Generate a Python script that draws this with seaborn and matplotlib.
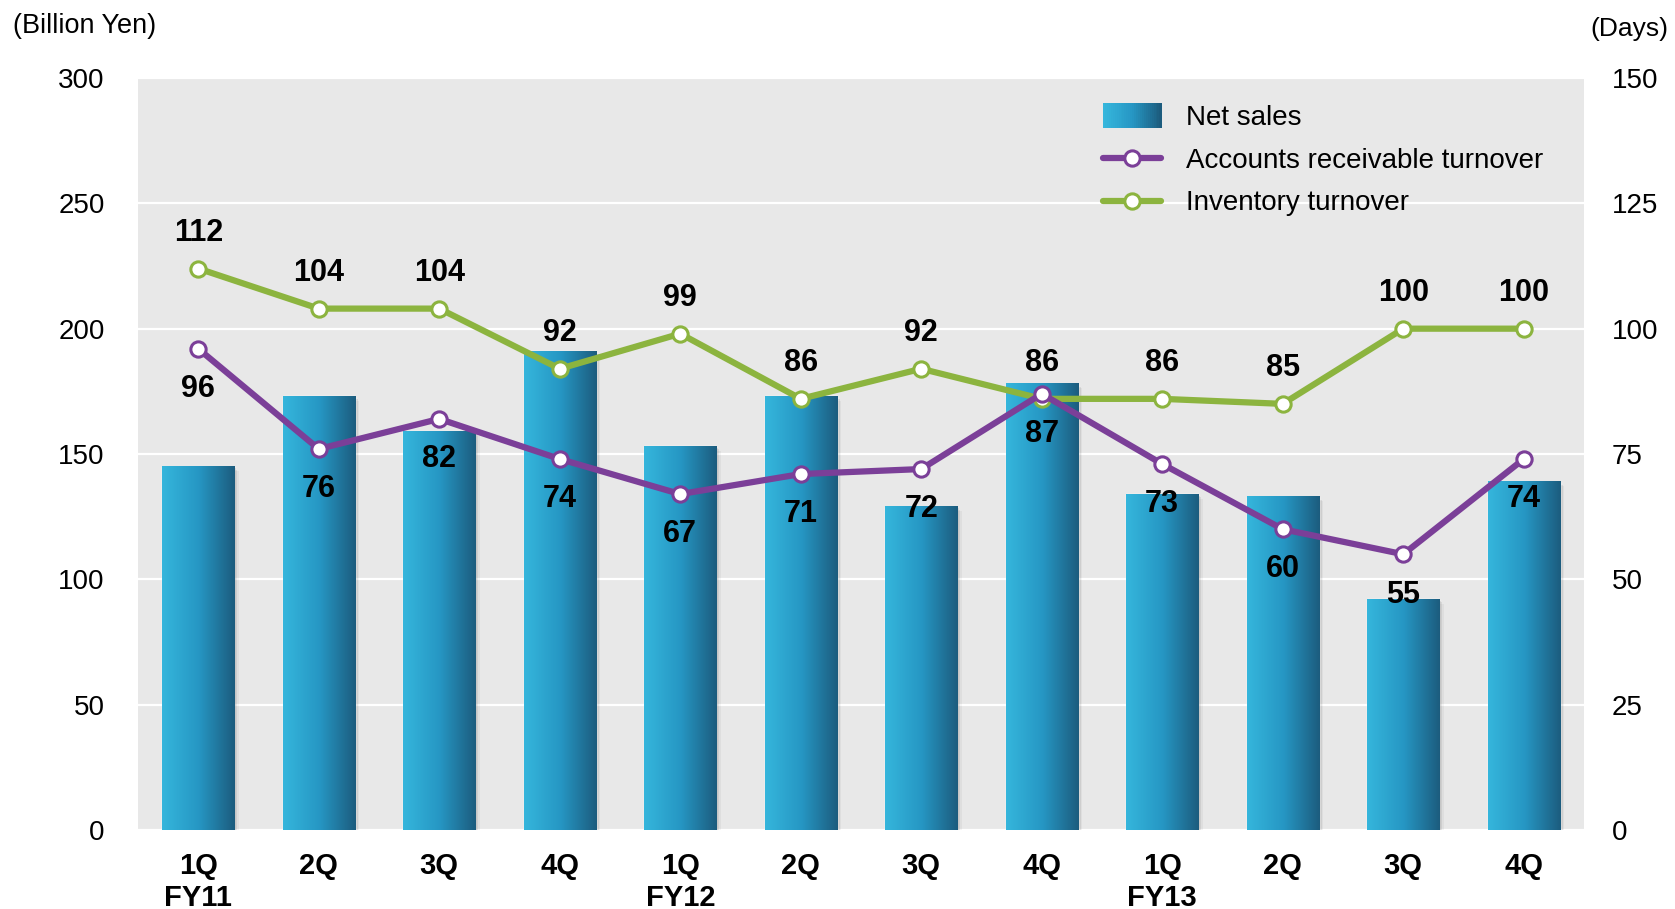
import numpy as np
import pandas as pd
import matplotlib
matplotlib.use('Agg')
import matplotlib.pyplot as plt
import seaborn as sns
from matplotlib.patches import Rectangle
from matplotlib.lines import Line2D
from matplotlib.legend_handler import HandlerBase
from matplotlib.colors import LinearSegmentedColormap

# Data
quarters = ['1Q', '2Q', '3Q', '4Q', '1Q', '2Q', '3Q', '4Q', '1Q', '2Q', '3Q', '4Q']
fiscal_years = ['FY11', '', '', '', 'FY12', '', '', '', 'FY13', '', '', '']
net_sales = [145, 173, 159, 191, 153, 173, 129, 178, 134, 133, 92, 139]
ar_turnover = [96, 76, 82, 74, 67, 71, 72, 87, 73, 60, 55, 74]
inv_turnover = [112, 104, 104, 92, 99, 86, 92, 86, 86, 85, 100, 100]

tick_labels = [q + ('\n' + fy if fy else '') for q, fy in zip(quarters, fiscal_years)]
df = pd.DataFrame({'period': [f'{i}' for i in range(len(quarters))], 'sales': net_sales})

PURPLE = '#7b3f98'
GREEN = '#8cb43f'
bar_cmap = LinearSegmentedColormap.from_list('bar', ['#35b6dc', '#2697c4', '#1c5c7e'])

sns.set_theme(style='white')
plt.rcParams['font.family'] = ['Liberation Sans', 'DejaVu Sans']
plt.rcParams.update({'text.color': 'black', 'xtick.color': 'black', 'ytick.color': 'black'})

fig = plt.figure(figsize=(16.75, 9.09), dpi=100)
ax = fig.add_axes([138 / 1675, 1 - 830 / 909, (1584 - 138) / 1675, (830 - 78) / 909])
ax.set_facecolor('#e8e8e8')

# Bars
sns.barplot(data=df, x='period', y='sales', ax=ax, width=0.6, color='#2697c4', zorder=2)
gradient = np.linspace(0, 1, 256).reshape(1, -1)
for bar in list(ax.patches):
    x0, w, h = bar.get_x(), bar.get_width(), bar.get_height()
    # soft shadow to the right
    for k, a in enumerate([0.10, 0.07, 0.04]):
        ax.add_patch(Rectangle((x0 + 0.012 * (k + 1), 0), w, h - 0.6 * (k + 1),
                               facecolor='black', alpha=a, edgecolor='none', zorder=1.5))
    ax.imshow(gradient, extent=[x0, x0 + w, 0, h], aspect='auto', cmap=bar_cmap, zorder=2.5)

ax.set_xlim(-0.5, len(quarters) - 0.5)
ax.set_ylim(0, 300)
ax.set_yticks(range(0, 301, 50))
ax.grid(axis='y', color='white', linewidth=1.6, zorder=0)
ax.set_axisbelow(True)
ax.set_xticks(range(len(quarters)))
ax.set_xticklabels(tick_labels, fontsize=21, fontweight='bold', linespacing=1.15)
ax.tick_params(axis='x', length=0, pad=16)
ax.tick_params(axis='y', length=0, pad=24, labelsize=20)
ax.set_xlabel('')
ax.set_ylabel('')
for s in ax.spines.values():
    s.set_visible(False)

# Lines on the right axis
ax2 = ax.twinx()
x_pos = np.arange(len(quarters))
line_kw = dict(marker='o', markersize=11, markerfacecolor='white', markeredgewidth=2.2, linewidth=4.5)
sns.lineplot(x=x_pos, y=inv_turnover, ax=ax2, color=GREEN, markeredgecolor=GREEN, zorder=4, **line_kw)
sns.lineplot(x=x_pos, y=ar_turnover, ax=ax2, color=PURPLE, markeredgecolor=PURPLE, zorder=5, **line_kw)
ax2.set_ylim(0, 150)
ax2.set_yticks(range(0, 151, 25))
ax2.tick_params(axis='y', length=0, pad=20, labelsize=20)
ax2.set_xlim(-0.5, len(quarters) - 0.5)
for s in ax2.spines.values():
    s.set_visible(False)

for i, v in enumerate(inv_turnover):
    ax2.annotate(f'{v}', (i, v), xytext=(0, 25.5), textcoords='offset points', ha='center', va='center',
                 fontsize=22, fontweight='bold', zorder=6)
for i, v in enumerate(ar_turnover):
    ax2.annotate(f'{v}', (i, v), xytext=(0, -29), textcoords='offset points', ha='center', va='center',
                 fontsize=22, fontweight='bold', zorder=6)


class GradientHandler(HandlerBase):
    def create_artists(self, legend, orig_handle, xdescent, ydescent, width, height, fontsize, trans):
        n = 30
        arts = []
        for k in range(n):
            r = Rectangle((-xdescent + width * k / n, -ydescent - 2), width / n + 0.3, height + 4,
                          facecolor=bar_cmap(k / (n - 1)), edgecolor='none', transform=trans)
            arts.append(r)
        return arts


sales_handle = Rectangle((0, 0), 1, 1)
ar_handle = Line2D([], [], color=PURPLE, **line_kw, markeredgecolor=PURPLE)
inv_handle = Line2D([], [], color=GREEN, **line_kw, markeredgecolor=GREEN)
ax2.legend([sales_handle, ar_handle, inv_handle],
           ['Net sales', 'Accounts receivable turnover', 'Inventory turnover'],
           handler_map={Rectangle: GradientHandler()},
           loc='upper left', bbox_to_anchor=(1103 / 1675, 1 - 105 / 909), bbox_transform=fig.transFigure,
           frameon=False, fontsize=20, handlelength=2.1, handletextpad=0.9, labelspacing=0.6, borderpad=0,
           borderaxespad=0)

fig.text(13 / 1675, 1 - 26 / 909, '(Billion Yen)', fontsize=19.5, ha='left', va='center')
fig.text(1668 / 1675, 1 - 29 / 909, '(Days)', fontsize=19, ha='right', va='center')

fig.savefig('out.png', dpi=100)
